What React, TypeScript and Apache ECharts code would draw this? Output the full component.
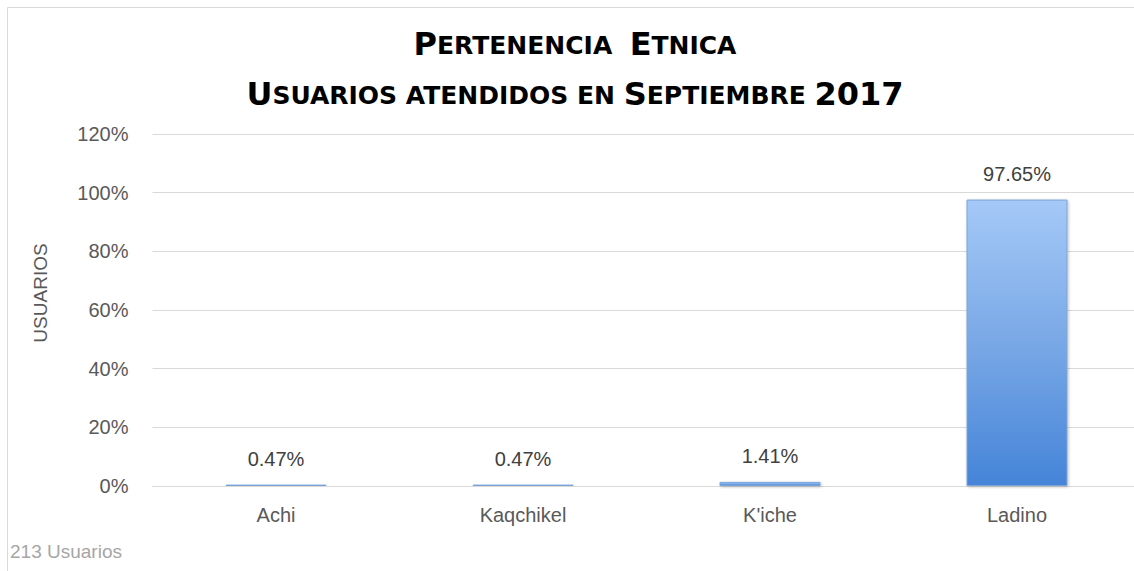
import React, { useEffect, useRef } from "react";
import * as echarts from "echarts";

const categories = ["Achi", "Kaqchikel", "K'iche", "Ladino"];
const values = [0.47, 0.47, 1.41, 97.65];
const yTicks = [0, 20, 40, 60, 80, 100, 120];
const titleLine1 = "{b|P}{s|ERTENENCIA  }{b|E}{s|TNICA}";
const titleLine2 = "{b|U}{s|SUARIOS ATENDIDOS EN }{b|S}{s|EPTIEMBRE }{b|2017}";
const yAxisName = "USUARIOS";
const footnote = "213 Usuarios";

export default function App() {
  const ref = useRef<HTMLDivElement>(null);
  useEffect(() => {
    if (!ref.current) return;
    const chart = echarts.init(ref.current, null, { renderer: "svg" });
    const richTitle = {
      b: { fontFamily: "DejaVu Sans", fontWeight: "bold", fontSize: 32, color: "#000", lineHeight: 38, verticalAlign: "bottom" },
      s: { fontFamily: "DejaVu Sans", fontWeight: "bold", fontSize: 25, color: "#000", lineHeight: 38, verticalAlign: "bottom", padding: [0, 0, 2, 0] },
    };
    chart.setOption({
      animation: false,
      backgroundColor: "#ffffff",
      grid: { left: 152.5, top: 134, width: 988, bottom: 85, containLabel: false },
      graphic: [
        {
          type: "rect",
          shape: { x: 7.5, y: 7.5, width: 1300, height: 800 },
          style: { fill: "none", stroke: "#d9d9d9", lineWidth: 1 },
          silent: true,
        },
        {
          type: "text",
          x: 575,
          y: 60,
          style: { text: titleLine1, rich: richTitle, align: "center", verticalAlign: "bottom" },
        },
        {
          type: "text",
          x: 575,
          y: 110,
          style: { text: titleLine2, rich: richTitle, align: "center", verticalAlign: "bottom" },
        },
        {
          type: "text",
          x: 40,
          y: 293,
          rotation: Math.PI / 2,
          style: {
            text: yAxisName,
            fontFamily: "Liberation Sans",
            fontSize: 19,
            fill: "#595959",
            align: "center",
            verticalAlign: "middle",
          },
        },
        {
          type: "text",
          x: 10,
          y: 551,
          style: {
            text: footnote,
            fontFamily: "Liberation Sans",
            fontSize: 19,
            fill: "#a6a6a6",
            align: "left",
            verticalAlign: "middle",
          },
        },
      ],
      xAxis: {
        type: "category",
        data: categories,
        axisLine: { lineStyle: { color: "#d9d9d9", width: 1 } },
        axisTick: { show: false },
        axisLabel: { color: "#595959", fontFamily: "Liberation Sans", fontSize: 20, margin: 19 },
      },
      yAxis: {
        type: "value",
        min: yTicks[0],
        max: yTicks[yTicks.length - 1],
        interval: 20,
        axisLine: { show: false },
        axisTick: { show: false },
        splitLine: { lineStyle: { color: "#d9d9d9", width: 1 } },
        axisLabel: {
          color: "#595959",
          fontFamily: "Liberation Sans",
          fontSize: 20,
          margin: 24,
          formatter: (v: number) => v + "%",
        },
      },
      series: [
        {
          type: "bar",
          data: values,
          barWidth: 101,
          itemStyle: {
            color: new echarts.graphic.LinearGradient(0, 0, 0, 1, [
              { offset: 0, color: "#a5c9f7" },
              { offset: 0.5, color: "#79a8e6" },
              { offset: 1, color: "#4584d8" },
            ]),
            borderColor: "#7aa4da",
            borderWidth: 1,
            shadowColor: "rgba(0,0,0,0.25)",
            shadowBlur: 3,
            shadowOffsetX: 1,
            shadowOffsetY: 1,
          },
          label: {
            show: true,
            position: "top",
            distance: 16,
            color: "#404040",
            fontFamily: "Liberation Sans",
            fontSize: 20,
            formatter: (p: any) => p.value.toFixed(2) + "%",
          },
        },
      ],
    });
    return () => chart.dispose();
  }, []);
  return (
    <div
      style={{ position: "absolute", left: 0, top: 0, width: 1134, height: 571, overflow: "hidden", background: "#fff" }}
    >
      <div ref={ref} style={{ width: 1160, height: 571 }} />
    </div>
  );
}
